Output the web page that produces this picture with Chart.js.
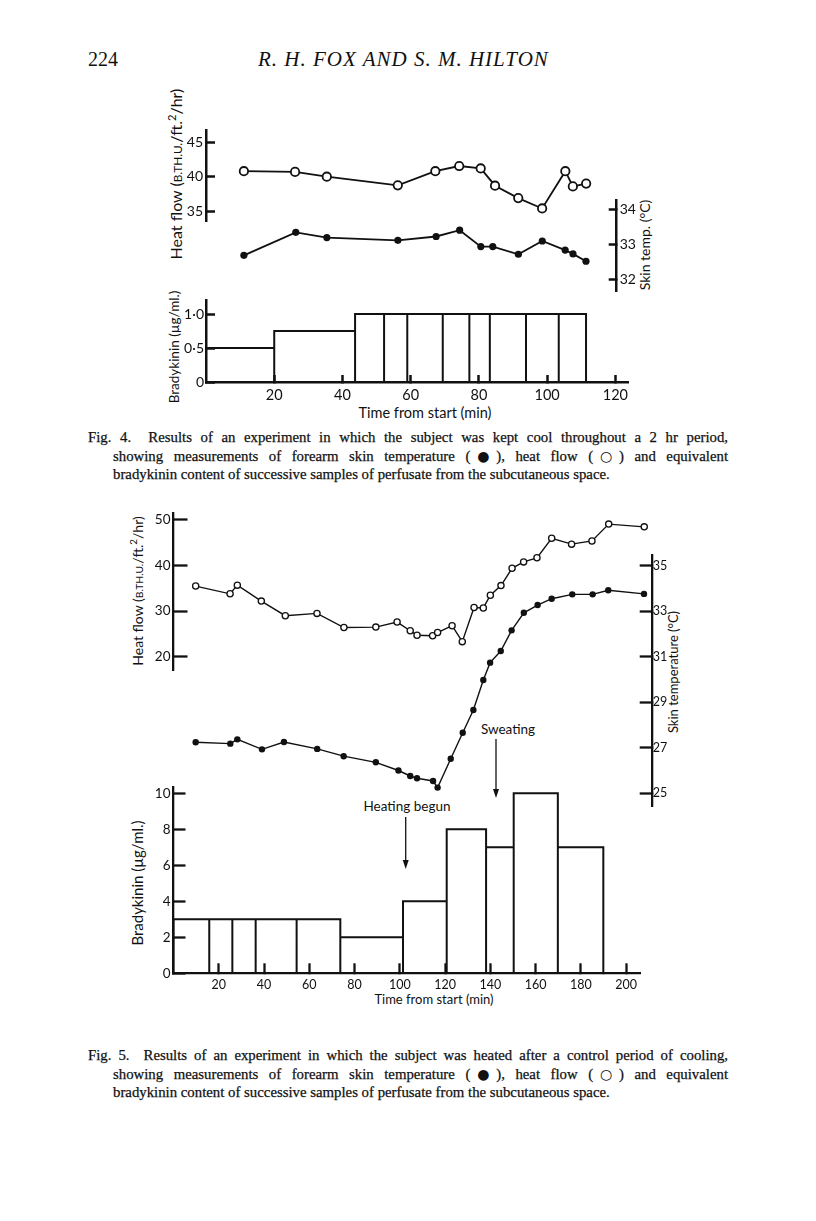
<!DOCTYPE html>
<html><head><meta charset="utf-8">
<script src="https://cdn.jsdelivr.net/npm/chart.js@4.4.0/dist/chart.umd.min.js"></script>
<style>
html,body{margin:0;padding:0;background:#fff;}
body{width:816px;height:1221px;position:relative;overflow:hidden;}
canvas{position:absolute;}
.t{position:absolute;white-space:nowrap;color:#111;line-height:1;}
.rot{transform:translate(-50%,-50%) rotate(-90deg);}
.cen{transform:translate(-50%,-50%);}
.sans{font-family:Lato,'Open Sans',sans-serif;}
.sc{font-size:0.74em;}
.cap{position:absolute;font-family:'Liberation Serif','Times New Roman',serif;font-size:14.8px;line-height:18.5px;color:#111;-webkit-text-stroke:0.25px #111;}
.cap div{text-align:justify;text-align-last:justify;white-space:nowrap;}
.cap div.last{text-align-last:left;}
.sym{font-family:'DejaVu Sans',sans-serif;font-size:0.95em;-webkit-text-stroke:0;}
.serif{font-family:'Liberation Serif','Times New Roman',serif;}
</style></head><body>

<div class="t serif" style="left:88px;top:49px;font-size:20px;">224</div>
<div class="t serif" style="left:258px;top:49px;font-size:21px;font-style:italic;letter-spacing:1px;">R. H. FOX AND S. M. HILTON</div>

<!-- Fig 4 axis titles -->
<div class="t sans rot" style="left:175px;top:174px;font-size:16px;">Heat flow (<span class="sc">B.TH.U.</span>/ft.<sup style="font-size:0.7em">2</sup>/hr)</div>
<div class="t sans rot" style="left:175px;top:347px;font-size:13.5px;">Bradykinin (µg/ml.)</div>
<div class="t sans rot" style="left:645px;top:245px;font-size:14px;">Skin temp. (°C)</div>
<div class="t sans cen" style="left:425px;top:413px;font-size:14.5px;">Time from start (min)</div>

<div class="cap" style="left:88px;top:428px;width:640px;">
<div>Fig. 4.&nbsp; Results of an experiment in which the subject was kept cool throughout a 2 hr period,</div>
<div style="padding-left:25px;">showing measurements of forearm skin temperature (<span class="sym">●</span>), heat flow (<span class="sym">○</span>) and equivalent</div>
<div class="last" style="padding-left:25px;">bradykinin content of successive samples of perfusate from the subcutaneous space.</div>
</div>

<!-- Fig 5 axis titles -->
<div class="t sans rot" style="left:137px;top:591px;font-size:14px;">Heat flow (<span class="sc">B.TH.U.</span>/ft.<sup style="font-size:0.7em">2</sup>/hr)</div>
<div class="t sans rot" style="left:137px;top:883px;font-size:15px;">Bradykinin (µg/ml.)</div>
<div class="t sans rot" style="left:673px;top:672px;font-size:13px;">Skin temperature (°C)</div>
<div class="t sans cen" style="left:434px;top:999px;font-size:13px;">Time from start (min)</div>

<div class="t sans cen" style="left:407px;top:807px;font-size:13.5px;">Heating begun</div>
<div class="t sans cen" style="left:508px;top:730px;font-size:13.5px;">Sweating</div>
<svg style="position:absolute;left:0;top:0;" width="816" height="1221">
  <line x1="405.7" y1="817" x2="405.7" y2="862" stroke="#111" stroke-width="1.3"/>
  <polygon points="402.7,860 408.7,860 405.7,869" fill="#111"/>
  <line x1="496" y1="739" x2="496" y2="790" stroke="#111" stroke-width="1.3"/>
  <polygon points="493,789 499,789 496,798" fill="#111"/>
</svg>

<div class="cap" style="left:88px;top:1046px;width:640px;">
<div>Fig. 5.&nbsp; Results of an experiment in which the subject was heated after a control period of cooling,</div>
<div style="padding-left:25px;">showing measurements of forearm skin temperature (<span class="sym">●</span>), heat flow (<span class="sym">○</span>) and equivalent</div>
<div class="last" style="padding-left:25px;">bradykinin content of successive samples of perfusate from the subcutaneous space.</div>
</div>

<script>
// ================= DATA =================
// Fig. 4
const f4HeatTime = [11.1, 26.1, 35.4, 56.2, 67.2, 74.2, 80.5, 84.7, 91.5, 98.5, 105.3, 107.5, 111.4];
const f4HeatFlow = [40.8, 40.7, 40.0, 38.75, 40.8, 41.55, 41.2, 38.7, 36.9, 35.4, 40.8, 38.6, 39.0];
const f4SkinTime = [11.1, 26.3, 35.4, 56.2, 67.4, 74.3, 80.5, 84.0, 91.5, 98.5, 105.2, 107.5, 111.3];
const f4SkinTemp = [32.68, 33.34, 33.19, 33.11, 33.22, 33.40, 32.93, 32.93, 32.71, 33.09, 32.83, 32.72, 32.51];
const f4SampleEdges = [0, 20, 43.7, 52.2, 59, 69.4, 77.2, 83.2, 93.8, 103.4, 111.4];
const f4Bradykinin = [0.5, 0.75, 1, 1, 1, 1, 1, 1, 1, 1];
const f4HeatTicks = [35, 40, 45];
const f4SkinTicks = [32, 33, 34];
const f4BradyTicks = [0, 0.5, 1.0];
const f4TimeTicks = [20, 40, 60, 80, 100, 120];

// Fig. 5
const f5HeatTime = [9.8, 25.0, 28.2, 38.8, 49.4, 63.4, 75.3, 89.4, 98.8, 104.6, 107.6, 114.5, 116.7, 123.1, 127.6, 132.8, 136.9, 140.0, 144.7, 149.6, 154.7, 160.6, 167.1, 175.9, 184.9, 192.3, 208.0];
const f5HeatFlow = [35.5, 33.8, 35.7, 32.2, 29.0, 29.5, 26.4, 26.5, 27.6, 25.7, 24.7, 24.6, 25.3, 26.8, 23.3, 30.8, 30.7, 33.5, 35.6, 39.4, 40.8, 41.7, 46.0, 44.7, 45.4, 49.1, 48.5];
const f5SkinTime = [9.8, 25.1, 28.2, 39.1, 48.8, 63.5, 75.2, 89.4, 99.4, 104.6, 107.6, 114.7, 116.7, 122.5, 127.8, 132.5, 136.9, 139.9, 144.6, 149.4, 154.8, 160.9, 167.1, 176.2, 185.2, 192.1, 207.9];
const f5SkinTemp = [27.24, 27.18, 27.37, 26.93, 27.25, 26.95, 26.63, 26.36, 26.0, 25.76, 25.66, 25.54, 25.25, 26.52, 27.66, 28.66, 29.98, 30.74, 31.25, 32.16, 32.93, 33.27, 33.55, 33.74, 33.74, 33.92, 33.76];
const f5SampleEdges = [0, 15.8, 26.0, 36.3, 54.4, 73.7, 101.4, 120.7, 138.1, 150.3, 169.8, 189.9];
const f5Bradykinin = [3, 3, 3, 3, 3, 2, 4, 8, 7, 10, 7];
const f5HeatTicks = [20, 30, 40, 50];
const f5SkinTicks = [25, 27, 29, 31, 33, 35];
const f5BradyTicks = [0, 2, 4, 6, 8, 10];
const f5TimeTicks = [20, 40, 60, 80, 100, 120, 140, 160, 180, 200];

// ================= HELPERS =================
Chart.defaults.font.family = "Lato, 'Open Sans', sans-serif";
Chart.defaults.color = '#111';
const INK = '#111';
const M = 50;

function pts(xs, ys) { return xs.map((x, i) => ({ x: x, y: ys[i] })); }
function histOutline(edges, vals) {
  const p = [];
  vals.forEach((v, i) => {
    p.push({ x: edges[i], y: 0 }, { x: edges[i], y: v }, { x: edges[i + 1], y: v }, { x: edges[i + 1], y: 0 });
  });
  return p;
}
function dot(v) { return v === 0 ? '0' : v.toFixed(1).replace('.', '·'); }

function yAxis(pos, min, max, ticks, o) {
  return {
    type: 'linear', position: pos, min: min, max: max,
    afterBuildTicks: s => { s.ticks = ticks.map(v => ({ value: v })); },
    grid: { drawOnChartArea: false, drawTicks: true, tickLength: -o.len, tickWidth: o.w, tickColor: INK },
    border: { display: true, color: INK, width: o.w },
    ticks: { padding: o.len + o.gap, font: { size: o.fs }, color: INK, callback: o.fmt || (v => String(v)) }
  };
}
function xAxis(min, max, ticks, o) {
  if (!o) return { type: 'linear', display: false, min: min, max: max };
  return {
    type: 'linear', position: 'bottom', min: min, max: max,
    afterBuildTicks: s => { s.ticks = ticks.map(v => ({ value: v })); },
    grid: { drawOnChartArea: false, drawTicks: true, tickLength: -o.len, tickWidth: o.w, tickColor: INK },
    border: { display: true, color: INK, width: o.w },
    ticks: { padding: o.len + o.gap, font: { size: o.fs }, color: INK, maxRotation: 0, autoSkip: false, callback: v => String(v) }
  };
}

function build(box, datasets, scales) {
  const cl = Math.floor(box.L - M), ct = Math.floor(box.T - M);
  const cr = Math.ceil(box.R + M), cb = Math.ceil(box.B + M);
  const side = { left: box.L - cl, right: cr - box.R, top: box.T - ct, bottom: cb - box.B };
  const pad = { left: side.left, right: side.right, top: side.top, bottom: side.bottom };
  Object.values(scales).forEach(s => {
    if (s.display === false) return;
    const p = s.position;
    pad[p] = 0;
    const size = side[p];
    s.afterFit = sc => { if (p === 'left' || p === 'right') sc.width = size; else sc.height = size; };
  });
  const cv = document.createElement('canvas');
  cv.width = cr - cl; cv.height = cb - ct;
  cv.style.left = cl + 'px'; cv.style.top = ct + 'px';
  cv.style.width = (cr - cl) + 'px'; cv.style.height = (cb - ct) + 'px';
  document.body.appendChild(cv);
  return new Chart(cv, {
    type: 'line',
    data: { datasets: datasets },
    options: {
      responsive: false, animation: false, devicePixelRatio: 1, events: [],
      layout: { padding: pad, autoPadding: false },
      plugins: { legend: { display: false }, tooltip: { enabled: false } },
      scales: scales
    }
  });
}

function openSeries(data, r, bw, lw) {
  return { data: data, borderColor: INK, borderWidth: lw, tension: 0, fill: false, clip: false,
    pointRadius: r, pointBorderWidth: bw, pointBackgroundColor: '#fff', pointBorderColor: INK };
}
function filledSeries(data, r, lw) {
  return { data: data, borderColor: INK, borderWidth: lw, tension: 0, fill: false, clip: false,
    pointRadius: r, pointBorderWidth: 0, pointBackgroundColor: INK, pointBorderColor: INK };
}
function histSeries(data, lw) {
  return { data: data, borderColor: INK, borderWidth: lw, tension: 0, fill: false, clip: false,
    pointRadius: 0, borderJoinStyle: 'miter', borderCapStyle: 'square' };
}

// ================= FIG. 4 =================
build({ L: 206, R: 615.5, T: 130.7, B: 221.7 },
  [openSeries(pts(f4HeatTime, f4HeatFlow), 4.2, 1.8, 1.8)],
  { x: xAxis(0, 120), y: yAxis('left', 33.48, 46.67, f4HeatTicks, { len: 9, w: 2.5, gap: 3, fs: 14 }) });
build({ L: 206, R: 616.7, T: 200, B: 291.7 },
  [filledSeries(pts(f4SkinTime, f4SkinTemp), 3.6, 1.8)],
  { x: xAxis(0, 120.3), y: yAxis('right', 31.636, 34.267, f4SkinTicks, { len: 8, w: 2.5, gap: 3, fs: 14 }) });
build({ L: 206, R: 628, T: 300.7, B: 382 },
  [histSeries(histOutline(f4SampleEdges, f4Bradykinin), 2)],
  { x: xAxis(0, 123.7, f4TimeTicks, { len: 7, w: 2.5, gap: 5, fs: 14.5 }),
    y: yAxis('left', 0, 1.196, f4BradyTicks, { len: 9, w: 2.5, gap: 2, fs: 14, fmt: dot }) });

// ================= FIG. 5 =================
build({ L: 173.5, R: 651.7, T: 513.3, B: 670 },
  [openSeries(pts(f5HeatTime, f5HeatFlow), 3.1, 1.3, 1.4)],
  { x: xAxis(0, 211.3), y: yAxis('left', 17.08, 51.47, f5HeatTicks, { len: 14, w: 2.3, gap: 3, fs: 13.5 }) });
build({ L: 173.5, R: 651.7, T: 555, B: 806.7 },
  [filledSeries(pts(f5SkinTime, f5SkinTemp), 3.2, 1.4)],
  { x: xAxis(0, 211.3), y: yAxis('right', 24.41, 35.47, f5SkinTicks, { len: 12, w: 2.3, gap: 1, fs: 12.5 }) });
build({ L: 173.5, R: 640, T: 786.7, B: 973.3 },
  [histSeries(histOutline(f5SampleEdges, f5Bradykinin), 2)],
  { x: xAxis(0, 206.1, f5TimeTicks, { len: 10, w: 2.3, gap: 4, fs: 12.5 }),
    y: yAxis('left', 0, 10.37, f5BradyTicks, { len: 12, w: 2.3, gap: 3, fs: 13.5 }) });
</script>
</body></html>
